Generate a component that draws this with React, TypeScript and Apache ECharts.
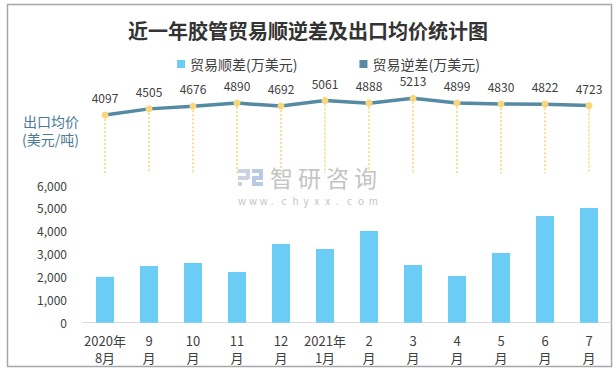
import React, { useEffect, useRef } from "react";
import * as echarts from "echarts";

const categories = [
  "2020年\n8月", "9\n月", "10\n月", "11\n月", "12\n月", "2021年\n1月",
  "2\n月", "3\n月", "4\n月", "5\n月", "6\n月", "7\n月",
];
const surplus = [2000, 2470, 2600, 2210, 3430, 3210, 3995, 2510, 2035, 3035, 4650, 5000];
const exportPrice = [4097, 4505, 4676, 4890, 4692, 5061, 4888, 5213, 4899, 4830, 4822, 4723];
const barAxisMax = 6000;
const barAxisStep = 1000;
const dropBase = 200;

const FONT = "'Noto Sans CJK SC', 'Noto Sans', sans-serif";
const BAR_COLOR = "#6bcdf5";
const LINE_COLOR = "#548aa3";
const DOT_COLOR = "#f8d67a";
const TEXT = "#404040";
const WM = "#c4c4c4";

function spacedText(str: string, x0: number, y: number, step: number, fontSize: number) {
  return str.split("").map((ch, i) => ({
    type: "text",
    x: x0 + i * step,
    y,
    silent: true,
    style: { text: ch, fontSize, lineHeight: fontSize, fill: WM, fontFamily: FONT },
  }));
}

export default function App() {
  const ref = useRef<HTMLDivElement>(null);
  useEffect(() => {
    if (!ref.current) return;
    const chart = echarts.init(ref.current, undefined, { renderer: "svg" });
    const dropLines = exportPrice.map((v, i) => [
      { coord: [i, v] },
      { coord: [i, dropBase] },
    ]);
    chart.setOption({
      animation: false,
      backgroundColor: "#ffffff",
      textStyle: { fontFamily: FONT },
      title: {
        text: "近一年胶管贸易顺逆差及出口均价统计图",
        left: "center",
        top: 15,
        textStyle: { fontFamily: FONT, fontSize: 20, fontWeight: "bold", color: "#333333" },
      },
      legend: {
        left: 172,
        top: 52,
        icon: "rect",
        itemWidth: 8,
        itemHeight: 8,
        itemGap: 62,
        textStyle: { fontFamily: FONT, fontSize: 14, color: TEXT },
        data: [
          { name: "贸易顺差(万美元)", itemStyle: { color: BAR_COLOR } },
          { name: "贸易逆差(万美元)", itemStyle: { color: LINE_COLOR } },
        ],
      },
      grid: [
        { left: 83, width: 528, top: 86.5, height: 89.8 },
        { left: 83, width: 528, top: 185, height: 137.7 },
      ],
      xAxis: [
        { type: "category", gridIndex: 0, data: categories, show: false, boundaryGap: true },
        {
          type: "category",
          gridIndex: 1,
          data: categories,
          boundaryGap: true,
          axisLine: { lineStyle: { color: "#d9d9d9", width: 1 } },
          axisTick: { show: false },
          axisLabel: {
            interval: 0,
            margin: 9,
            fontSize: 13,
            lineHeight: 17,
            color: TEXT,
            fontFamily: FONT,
          },
        },
      ],
      yAxis: [
        { type: "value", gridIndex: 0, min: 0, max: 6000, show: false, splitLine: { show: false } },
        {
          type: "value",
          gridIndex: 1,
          min: 0,
          max: barAxisMax,
          interval: barAxisStep,
          splitLine: { show: false },
          axisLine: { show: false },
          axisTick: { show: false },
          axisLabel: {
            margin: 16,
            fontSize: 12,
            color: TEXT,
            fontFamily: FONT,
            formatter: (v: number) => v.toLocaleString("en-US"),
          },
        },
      ],
      series: [
        {
          name: "贸易顺差(万美元)",
          type: "bar",
          xAxisIndex: 1,
          yAxisIndex: 1,
          data: surplus,
          barWidth: 18,
          itemStyle: { color: BAR_COLOR },
        },
        {
          name: "贸易逆差(万美元)",
          type: "line",
          xAxisIndex: 0,
          yAxisIndex: 0,
          data: exportPrice,
          symbol: "circle",
          symbolSize: 7,
          itemStyle: { color: DOT_COLOR },
          lineStyle: { color: LINE_COLOR, width: 3.5 },
          label: {
            show: true,
            position: "top",
            distance: 8,
            fontSize: 12,
            color: TEXT,
            fontFamily: FONT,
          },
          z: 3,
          markLine: {
            silent: true,
            symbol: ["none", "none"],
            label: { show: false },
            lineStyle: { color: DOT_COLOR, type: [2, 2], width: 1.5 },
            data: dropLines,
            z: 1,
          },
        },
      ],
      graphic: [
        {
          type: "rect",
          shape: { x: 7.5, y: 4.5, width: 604, height: 362 },
          style: { fill: "none", stroke: "#a6a6a6", lineWidth: 1.5 },
          silent: true,
        },
        {
          type: "text",
          x: 23,
          y: 114,
          style: { text: "出口均价", fontSize: 14, fill: "#4a7a96", fontFamily: FONT },
        },
        {
          type: "text",
          x: 22,
          y: 132,
          style: { text: "(美元/吨)", fontSize: 14, fill: "#4a7a96", fontFamily: FONT },
        },
        {
          type: "group",
          x: 238,
          y: 169,
          silent: true,
          children: [
            { type: "rect", shape: { x: 0, y: 0, width: 11, height: 4 }, style: { fill: "#c9d3e2" } },
            { type: "rect", shape: { x: 8, y: 0, width: 4, height: 10 }, style: { fill: "#c9d3e2" } },
            { type: "rect", shape: { x: 0, y: 7, width: 10, height: 4 }, style: { fill: "#c9d3e2" } },
            { type: "rect", shape: { x: 0, y: 13, width: 4, height: 4 }, style: { fill: "#c9d3e2" } },
            { type: "rect", shape: { x: 14, y: 0, width: 11, height: 4 }, style: { fill: "#b9cbe4" } },
            { type: "rect", shape: { x: 21, y: 0, width: 4, height: 10 }, style: { fill: "#b9cbe4" } },
            { type: "rect", shape: { x: 14, y: 7, width: 11, height: 4 }, style: { fill: "#b9cbe4" } },
            { type: "rect", shape: { x: 14, y: 7, width: 4, height: 10 }, style: { fill: "#b9cbe4" } },
            { type: "rect", shape: { x: 14, y: 13, width: 11, height: 4 }, style: { fill: "#b9cbe4" } },
          ],
        },
        ...spacedText("智研咨询", 270, 165, 28, 23),
        ...spacedText("www.chyxx.com", 238, 195, 10.9, 10),
      ],
    });
    return () => chart.dispose();
  }, []);
  return (
    <div
      ref={ref}
      style={{ position: "absolute", left: 0, top: 0, width: 616, height: 374 }}
    />
  );
}
